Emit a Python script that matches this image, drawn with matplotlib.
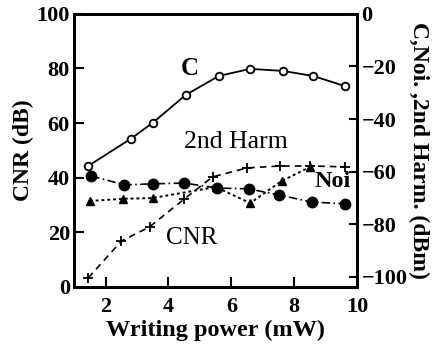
import matplotlib
matplotlib.use("Agg")
import matplotlib.pyplot as plt

plt.rcParams['font.family'] = ['Liberation Serif', 'DejaVu Serif']
plt.rcParams['font.size'] = 15

# carrier level C (dBm, right axis)
x_c = [1.45, 2.8, 3.5, 4.55, 5.6, 6.6, 7.65, 8.6, 9.6]
c_dbm = [-57.8, -47.5, -41.4, -30.8, -23.6, -20.9, -21.7, -23.6, -27.4]

# noise level Noi (dBm, right axis)
x_noi = [1.55, 2.6, 3.5, 4.5, 5.55, 6.55, 7.5, 8.55, 9.6]
noi_dbm = [-61.6, -65.0, -64.6, -64.3, -66.2, -66.5, -68.8, -71.5, -72.2]

# second harmonic (dBm, right axis)
x_h2 = [1.5, 2.55, 3.5, 5.5, 6.6, 7.6, 8.5]
h2_dbm = [-71.1, -70.3, -70.0, -65.8, -71.9, -63.5, -58.2]

# CNR (dB, left axis)
x_cnr = [1.45, 2.5, 3.4, 4.5, 5.4, 6.5, 7.55, 8.5, 9.6]
cnr_db = [3.3, 16.8, 22.0, 32.2, 40.3, 43.6, 44.3, 44.3, 44.0]

fig = plt.figure(figsize=(4.41, 3.47), dpi=100)
ax = fig.add_axes([0.168, 0.173, 0.642, 0.787])
ax2 = ax.twinx()

ax.plot(x_cnr, cnr_db, color='black', linestyle=(0, (4, 3)), linewidth=1.2,
        marker='+', markersize=7, markeredgewidth=1.3)
ax2.plot(x_c, c_dbm, color='black', linestyle='-', linewidth=1.3,
         marker='o', markersize=5.5, markerfacecolor='white', markeredgewidth=1.3)
ax2.plot(x_noi, noi_dbm, color='black', linestyle=(0, (5, 2, 1, 2)), linewidth=1.2,
         marker='o', markersize=7.5, markerfacecolor='black')
ax2.plot(x_h2, h2_dbm, color='black', linestyle=(0, (1.5, 1.5)), linewidth=1.4,
         marker='^', markersize=5.5, markerfacecolor='black')

ax.set_xlim(1, 10)
ax.set_ylim(0, 100)
ax2.set_ylim(-103.8, 0)
ax.set_xticks([2, 4, 6, 8, 10])
ax.set_yticks([0, 20, 40, 60, 80, 100])
ax2.set_yticks([0, -20, -40, -60, -80, -100])

for a in (ax, ax2):
    for s in a.spines.values():
        s.set_linewidth(2)
ax.tick_params(direction='in', length=7, width=1.5, labelsize=16, pad=3)
ax.tick_params(axis='x', pad=7)
ax2.tick_params(direction='in', length=6, width=1.5, labelsize=16, pad=3)
for lab in ax.get_xticklabels() + ax.get_yticklabels() + ax2.get_yticklabels():
    lab.set_fontweight('bold')

ax.set_xlabel("Writing power (mW)", fontsize=17.5, fontweight='bold', labelpad=2)
ax.set_ylabel("CNR (dB)", fontsize=17, fontweight='bold', labelpad=2)
ax2.set_ylabel("C,Noi. ,2nd Harm. (dBm)", fontsize=17, fontweight='bold',
               rotation=-90, labelpad=16)

ax.text(0.41, 0.80, "C", transform=ax.transAxes, fontsize=18, fontweight='bold',
        ha='center', va='center')
ax.text(0.57, 0.53, "2nd Harm", transform=ax.transAxes, fontsize=18.5,
        ha='center', va='center')
ax.text(0.915, 0.385, "Noi", transform=ax.transAxes, fontsize=17.5, fontweight='bold',
        ha='center', va='center')
ax.text(0.415, 0.18, "CNR", transform=ax.transAxes, fontsize=18,
        ha='center', va='center')

plt.savefig("out.png", dpi=100)
